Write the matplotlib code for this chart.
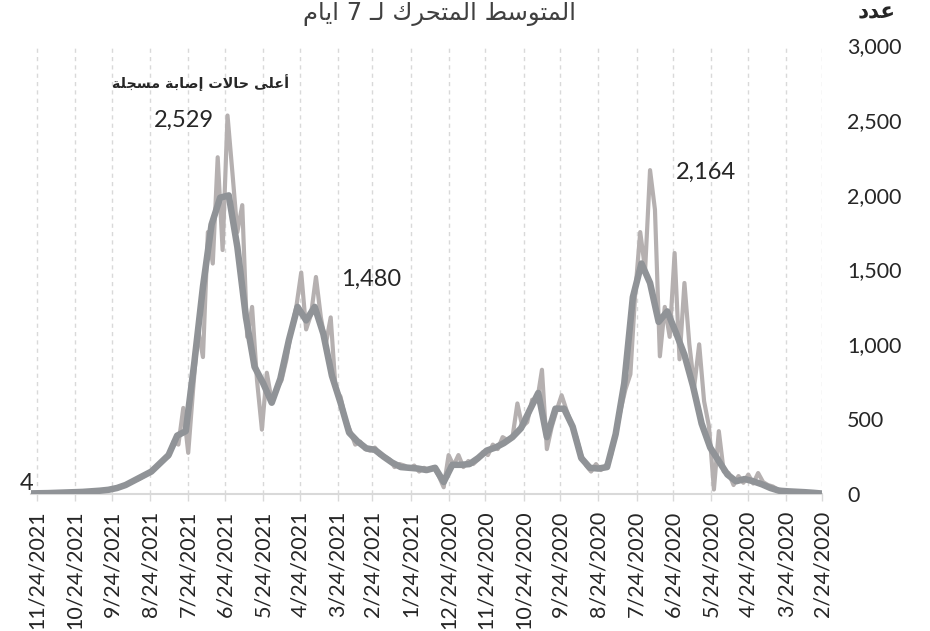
import matplotlib
matplotlib.use("Agg")
import matplotlib.pyplot as plt
import pandas as pd

# ---------------- data ----------------
start_date = "2020-02-24"

daily_cases = [
    1, 3, 5, 8, 12, 15, 18, 20, 25, 30,
    50, 60, 80, 140, 70, 130, 75, 120, 60, 140,
    150, 420, 30, 450, 620, 1000, 720, 1000, 1410, 900,
    1610, 1050, 1250, 920, 1900, 2164, 1500, 1750, 1350, 800,
    700, 560, 400, 250, 190, 160, 200, 150, 190, 260,
    380, 470, 560, 660, 560, 450, 300, 830, 620, 630,
    480, 450, 605, 380, 360, 380, 300, 330, 260, 280,
    230, 200, 220, 180, 260, 190, 260, 45, 120, 180,
    160, 175, 150, 190, 170, 190, 200, 180, 230, 250,
    260, 310, 290, 300, 350, 330, 420, 500, 650, 700,
    1180, 1000, 1180, 1450, 1200, 1100, 1480, 1250, 1100, 900,
    760, 700, 620, 810, 430, 760, 1250, 1050, 1930, 1750,
    2145, 2529, 1630, 2250, 1540, 1750, 915, 1100, 700, 275,
    575, 330, 350, 250, 230, 190, 170, 140, 120, 100,
    90, 70, 60, 48, 40, 32, 26, 22, 20, 18,
    16, 15, 13, 12, 11, 10, 9, 8, 7, 6,
    5, 4,
]

# 7-day moving average (weekly samples)
moving_avg = [
    3, 8, 12, 15, 18, 22, 40, 65, 85, 100,
    85, 130, 220, 310, 470, 720, 930, 1080, 1220, 1150,
    1410, 1540, 1315, 740, 400, 180, 170, 175, 240, 450,
    570, 570, 380, 675, 560, 440, 380, 340, 310, 290,
    240, 200, 195, 195, 80, 175, 160, 170, 175, 180,
    210, 250, 295, 305, 350, 410, 610, 790, 1070, 1250,
    1160, 1250, 1030, 770, 610, 740, 850, 1180, 1650, 1995,
    1980, 1800, 1385, 880, 420, 390, 260, 205, 150, 120,
    90, 60, 40, 28, 22, 18, 14, 12, 10, 8,
    6, 5, 4,
]

tick_labels = [
    "2/24/2020", "3/24/2020", "4/24/2020", "5/24/2020", "6/24/2020",
    "7/24/2020", "8/24/2020", "9/24/2020", "10/24/2020", "11/24/2020",
    "12/24/2020", "1/24/2021", "2/24/2021", "3/24/2021", "4/24/2021",
    "5/24/2021", "6/24/2021", "7/24/2021", "8/24/2021", "9/24/2021",
    "10/24/2021", "11/24/2021",
]
y_ticks = [0, 500, 1000, 1500, 2000, 2500, 3000]

# Arabic texts (presentation forms in visual order, since matplotlib does no shaping)
title_text = "\uFEE1\uFE8E\uFEF3\uFE8D 7 \u0640\uFEDF \uFED9\uFEAE\uFEA4\uFE98\uFEE4\uFEDF\uFE8D \uFEC2\uFEB3\uFEEE\uFE98\uFEE4\uFEDF\uFE8D"  # المتوسط المتحرك لـ 7 ايام
unit_text = "\uFEA9\uFEAA\uFECB"  # عدد
peak_note = ("\uFE94\uFEE0\uFEA0\uFEB4\uFEE3 \uFE94\uFE91\uFE8E\uFEBB\uFE87 "
             "\uFE95\uFEFB\uFE8E\uFEA3 \uFEF0\uFEE0\uFECB\uFE83")  # أعلى حالات إصابة مسجلة

# ---------------- drawing ----------------
daily_dates = pd.date_range(start_date, periods=len(daily_cases), freq="4D")
ma_dates = pd.date_range(start_date, periods=len(moving_avg), freq="7D")
tick_dates = pd.to_datetime(tick_labels, format="%m/%d/%Y")

W, H = 930, 631
fig = plt.figure(figsize=(W / 100, H / 100), dpi=100)
ax = fig.add_axes([31 / W, 1 - 494 / H, (822 - 31) / W, (494 - 45) / H])

num_font = "Lato"
txt_col = "#262626"

ax.plot(daily_dates, daily_cases, color="#b5b0b0", lw=3.0, zorder=3)
ax.plot(ma_dates, moving_avg, color="#909397", lw=4.7, zorder=4)

ax.set_ylim(0, 3000)
ax.set_xlim(daily_dates[-1], daily_dates[0])

ax.set_xticks(tick_dates)
ax.set_xticklabels(tick_labels, rotation=90, fontsize=15.5, family=num_font, color=txt_col)
ax.set_yticks(y_ticks)
ax.set_yticklabels([f"{v:,}" for v in y_ticks], fontsize=15.5, family=num_font, color=txt_col)
ax.yaxis.tick_right()
ax.tick_params(axis="y", length=0, pad=18)
ax.tick_params(axis="x", length=5, color="#d9d9d9", width=1, pad=7)

ax.grid(axis="x", color="#d9d9d9", linestyle=(0, (3, 3)), lw=1)
ax.grid(axis="y", visible=False)
ax.set_axisbelow(True)
for s in ("left", "right", "top"):
    ax.spines[s].set_visible(False)
ax.spines["bottom"].set_color("#d9d9d9")
ax.spines["bottom"].set_linewidth(1.5)

# value labels
lab_kw = dict(textcoords="offset pixels", fontsize=17, family=num_font, color=txt_col,
              va="center", annotation_clip=False)
i_max1 = daily_cases.index(2529)
ax.annotate("2,529", (daily_dates[i_max1], 2529), xytext=(-14, -5), ha="right", **lab_kw)
i_max2 = daily_cases.index(1480)
ax.annotate("1,480", (daily_dates[i_max2], 1480), xytext=(40, -7), ha="left", **lab_kw)
i_max3 = daily_cases.index(2164)
ax.annotate("2,164", (daily_dates[i_max3], 2164), xytext=(26, -2), ha="left", **lab_kw)
ax.annotate("4", (daily_dates[-1], daily_cases[-1]), xytext=(2, 10), ha="right", **lab_kw)

fig.text(439 / W, 1 - 20 / H, title_text, ha="center", va="baseline", fontsize=17.5,
         family="DejaVu Sans", color="#404040")
fig.text(877 / W, 1 - 18 / H, unit_text, ha="center", va="baseline", fontsize=15.5,
         family="DejaVu Sans", fontweight="bold", color=txt_col)
fig.text(200 / W, 1 - 83 / H, peak_note, ha="center", va="center", fontsize=10.3,
         family="DejaVu Sans", fontweight="bold", color=txt_col)

fig.savefig("out.png", dpi=100)
